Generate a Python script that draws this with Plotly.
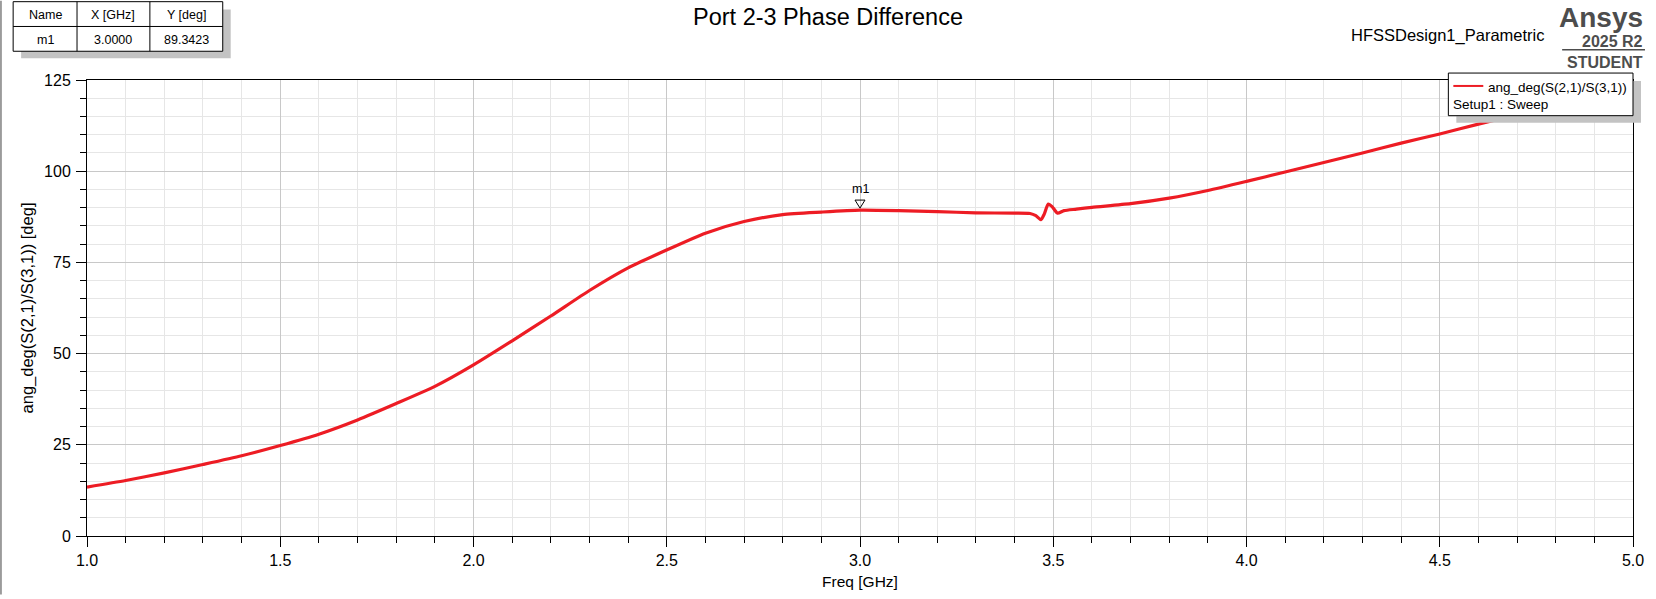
import plotly.graph_objects as go

# values
freq = [1.0, 1.1, 1.2, 1.3, 1.4, 1.5, 1.6, 1.7, 1.8, 1.9,
        2.0, 2.1, 2.2, 2.3, 2.4, 2.5, 2.6, 2.7, 2.8, 2.9,
        3.0, 3.1, 3.2, 3.3, 3.4, 3.44, 3.455, 3.468, 3.477, 3.487,
        3.497, 3.511, 3.528, 3.56, 3.6, 3.7, 3.8, 3.9, 4.0, 4.1,
        4.2, 4.3, 4.4, 4.5, 4.6, 4.7, 4.8, 4.9, 5.0]
phase = [13.4, 15.2, 17.3, 19.6, 22.0, 24.8, 27.9, 31.8, 36.3, 41.0,
         46.9, 53.5, 60.3, 67.3, 73.5, 78.4, 83.0, 86.2, 88.1, 88.8,
         89.34, 89.2, 88.9, 88.6, 88.5, 88.4, 87.8, 86.7, 88.3, 91.0,
         90.3, 88.5, 89.2, 89.6, 90.1, 91.1, 92.6, 94.7, 97.2, 99.8,
         102.4, 105.0, 107.7, 110.2, 112.9, 115.4, 117.7, 119.9, 122.0]

marker_name = "m1"
marker_x = 3.0
marker_y = 89.3423

trace_name = "ang_deg(S(2,1)/S(3,1))"
setup_name = "Setup1 : Sweep"

W, H = 1656, 599
L, R, T, B = 87, 20, 80, 59
PW = W - L - R
PH = H - T - B
FONT = "Liberation Sans, Arial, sans-serif"


def px(x):
    return (x - L) / PW


def py(y):
    return (H - B - y) / PH


fig = go.Figure()
fig.add_trace(go.Scatter(
    x=freq, y=phase, mode="lines", name=trace_name,
    line=dict(color="#ed1c24", width=3.2, shape="spline", smoothing=0.6),
    showlegend=False,
))

shapes = []
annots = []

# marker triangle + label
shapes.append(dict(type="path", xref="x", yref="y", xsizemode="pixel", ysizemode="pixel",
                   xanchor=marker_x, yanchor=marker_y,
                   path="M -5,10 L 5,10 L 0,2 Z",
                   line=dict(color="black", width=1), fillcolor="rgba(0,0,0,0)"))
annots.append(dict(x=marker_x, y=marker_y, xref="x", yref="y", text=marker_name,
                   showarrow=False, yanchor="bottom", yshift=12,
                   font=dict(size=12.5, color="black", family=FONT)))

# marker table (shadow, box, grid lines)
shapes.append(dict(type="rect", xref="paper", yref="paper", x0=px(21), x1=px(231),
                   y0=py(9), y1=py(58), fillcolor="#c3c3c3", line=dict(width=0), layer="above"))
shapes.append(dict(type="rect", xref="paper", yref="paper", x0=px(13), x1=px(223),
                   y0=py(1), y1=py(51), fillcolor="white", line=dict(color="black", width=1), layer="above"))
for xx in (77, 150):
    shapes.append(dict(type="line", xref="paper", yref="paper", x0=px(xx), x1=px(xx),
                       y0=py(1), y1=py(51), line=dict(color="black", width=1), layer="above"))
shapes.append(dict(type="line", xref="paper", yref="paper", x0=px(13), x1=px(223),
                   y0=py(26), y1=py(26), line=dict(color="black", width=1), layer="above"))
table = [("Name", 45, 14), ("X [GHz]", 113.5, 14), ("Y [deg]", 186.5, 14),
         (marker_name, 45, 40), ("%.4f" % marker_x, 113.5, 40), ("%.4f" % marker_y, 186.5, 40)]
for txt, cx, cy in table:
    annots.append(dict(x=px(cx), y=py(cy), xref="paper", yref="paper", text=txt, showarrow=False,
                       xanchor="center", yanchor="middle", font=dict(size=12.5, color="black", family=FONT)))

# legend box
shapes.append(dict(type="rect", xref="paper", yref="paper", x0=px(1459), x1=px(1644),
                   y0=py(81), y1=py(123), fillcolor="#c3c3c3", line=dict(width=0), layer="above"))
shapes.append(dict(type="rect", xref="paper", yref="paper", x0=px(1451), x1=px(1636),
                   y0=py(73), y1=py(116), fillcolor="white", line=dict(color="black", width=1), layer="above"))
shapes.append(dict(type="line", xref="paper", yref="paper", x0=px(1456), x1=px(1486),
                   y0=py(86), y1=py(86), line=dict(color="#ed1c24", width=2), layer="above"))
annots.append(dict(x=px(1632), y=py(88), xref="paper", yref="paper", text=trace_name, showarrow=False,
                   xanchor="right", yanchor="middle", font=dict(size=13.5, color="black", family=FONT)))
annots.append(dict(x=px(1454), y=py(105), xref="paper", yref="paper", text=setup_name, showarrow=False,
                   xanchor="left", yanchor="middle", font=dict(size=13.5, color="black", family=FONT)))

# header texts
annots.append(dict(x=px(829), y=py(16), xref="paper", yref="paper", text="Port 2-3 Phase Difference",
                   showarrow=False, xanchor="center", yanchor="middle",
                   font=dict(size=23.5, color="black", family=FONT)))
annots.append(dict(x=px(1550), y=py(35), xref="paper", yref="paper", text="HFSSDesign1_Parametric",
                   showarrow=False, xanchor="right", yanchor="middle",
                   font=dict(size=16.5, color="black", family=FONT)))
annots.append(dict(x=px(1648), y=py(17), xref="paper", yref="paper", text="<b>Ansys</b>",
                   showarrow=False, xanchor="right", yanchor="middle",
                   font=dict(size=28, color="#4d4d4d", family=FONT)))
annots.append(dict(x=px(1648), y=py(41), xref="paper", yref="paper", text="<b>2025 R2</b>",
                   showarrow=False, xanchor="right", yanchor="middle",
                   font=dict(size=16, color="#4d4d4d", family=FONT)))
shapes.append(dict(type="line", xref="paper", yref="paper", x0=px(1565), x1=px(1648),
                   y0=py(49.5), y1=py(49.5), line=dict(color="#4d4d4d", width=1.5), layer="above"))
annots.append(dict(x=px(1648), y=py(62), xref="paper", yref="paper", text="<b>STUDENT</b>",
                   showarrow=False, xanchor="right", yanchor="middle",
                   font=dict(size=16, color="#4d4d4d", family=FONT)))

# window edge line on the left
shapes.append(dict(type="line", xref="paper", yref="paper", x0=px(0.8), x1=px(0.8),
                   y0=py(0), y1=py(H), line=dict(color="#808080", width=1.5), layer="above"))

fig.update_layout(
    width=W, height=H,
    margin=dict(l=L, r=R, t=T, b=B),
    paper_bgcolor="white", plot_bgcolor="white",
    font=dict(family=FONT, color="black", size=15),
    shapes=shapes, annotations=annots,
    xaxis=dict(
        range=[1, 5], dtick=0.5, tick0=1, tickformat=".1f",
        showline=True, linecolor="black", linewidth=1, mirror=True,
        ticks="outside", ticklen=10, tickcolor="black",
        showgrid=True, gridcolor="#c8c8c8", gridwidth=1, zeroline=False,
        minor=dict(dtick=0.1, ticks="outside", ticklen=6, tickcolor="black",
                   showgrid=True, gridcolor="#e6e6e6", gridwidth=1),
        title=dict(text="Freq [GHz]", font=dict(size=15.5), standoff=7),
        tickfont=dict(size=16),
    ),
    yaxis=dict(
        range=[0, 125], dtick=25,
        showline=True, linecolor="black", linewidth=1, mirror=True,
        ticks="outside", ticklen=10, tickcolor="black", ticklabelstandoff=2,
        showgrid=True, gridcolor="#c8c8c8", gridwidth=1, zeroline=False,
        minor=dict(dtick=5, ticks="outside", ticklen=6, tickcolor="black",
                   showgrid=True, gridcolor="#e6e6e6", gridwidth=1),
        title=dict(text="ang_deg(S(2,1)/S(3,1)) [deg]", font=dict(size=16.5), standoff=6),
        tickfont=dict(size=16),
    ),
)

# the page body has a default 8px margin; drop it so the figure sits at the window corner
fig.write_html("out.html", config={"displayModeBar": False},
               post_script="document.body.style.margin = '0';")
